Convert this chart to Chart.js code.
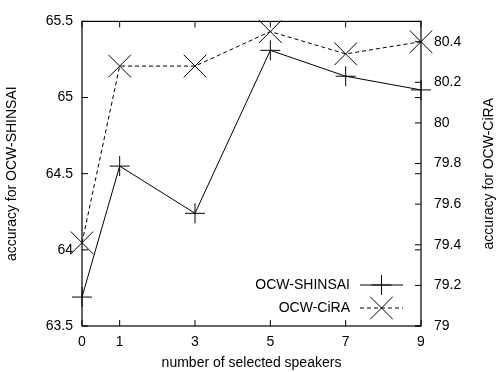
<!DOCTYPE html>
<html>
<head>
<meta charset="utf-8">
<script src="https://cdn.jsdelivr.net/npm/chart.js@4/dist/chart.umd.min.js"></script>
<style>
  html, body { margin: 0; background: #fff; }
  #wrap { width: 497px; height: 372px; }
</style>
</head>
<body>
<div id="wrap"><canvas id="c"></canvas></div>
<script>
// values
const speakers = [0, 1, 3, 5, 7, 9];
const shinsai = [63.69, 64.55, 64.24, 65.31, 65.14, 65.05];
const cira = [79.41, 80.28, 80.28, 80.45, 80.34, 80.40];
const xTicks = [0, 1, 3, 5, 7, 9];
const yTicks = [63.5, 64, 64.5, 65, 65.5];
const y2Ticks = [79, 79.2, 79.4, 79.6, 79.8, 80, 80.2, 80.4];

Chart.defaults.font.family = "'Liberation Sans', Arial, sans-serif";
Chart.defaults.font.size = 14;
Chart.defaults.color = '#000';

function fmt(v) { return String(+v.toFixed(1)); }

// gnuplot-like frame: border, inward ticks, right-hand title and the legend box
const frame = {
    id: 'frame',
    afterDraw(chart) {
        const ctx = chart.ctx;
        const a = chart.chartArea;
        const s = chart.scales;
        const t = 6;
        ctx.save();
        ctx.strokeStyle = '#000';
        ctx.lineWidth = 1.2;
        ctx.strokeRect(a.left, a.top, a.right - a.left, a.bottom - a.top);
        ctx.lineWidth = 1;
        ctx.beginPath();
        xTicks.forEach(v => {
            const x = s.x.getPixelForValue(v);
            ctx.moveTo(x, a.bottom); ctx.lineTo(x, a.bottom - t);
            ctx.moveTo(x, a.top); ctx.lineTo(x, a.top + t);
        });
        yTicks.forEach(v => {
            const y = s.y.getPixelForValue(v);
            ctx.moveTo(a.left, y); ctx.lineTo(a.left + t, y);
            ctx.moveTo(a.right, y); ctx.lineTo(a.right - t, y);
        });
        y2Ticks.forEach(v => {
            const y = s.y2.getPixelForValue(v);
            ctx.moveTo(a.right, y); ctx.lineTo(a.right - t, y);
        });
        ctx.stroke();

        // right axis title, reading bottom to top
        ctx.font = "14px 'Liberation Sans', Arial, sans-serif";
        ctx.fillStyle = '#000';
        ctx.textAlign = 'center';
        ctx.textBaseline = 'middle';
        ctx.save();
        ctx.translate(489, (a.top + a.bottom) / 2);
        ctx.rotate(-Math.PI / 2);
        ctx.fillText('accuracy for OCW-CiRA', 0, 0);
        ctx.restore();

        // legend
        ctx.textAlign = 'right';
        chart.data.datasets.forEach((ds, i) => {
            const y = 285 + i * 23;
            ctx.fillText(ds.label, 350, y);
            ctx.beginPath();
            ctx.setLineDash(ds.borderDash || []);
            ctx.moveTo(360, y); ctx.lineTo(403, y);
            ctx.stroke();
            ctx.setLineDash([]);
            Chart.helpers.drawPoint(ctx, {
                pointStyle: ds.pointStyle, radius: ds.pointRadius,
                rotation: 0, borderWidth: 1
            }, 381.5, y);
        });
        ctx.restore();
    }
};

new Chart(document.getElementById('c'), {
    type: 'line',
    data: {
        datasets: [{
            label: 'OCW-SHINSAI',
            data: speakers.map((x, i) => ({ x: x, y: shinsai[i] })),
            yAxisID: 'y',
            borderColor: '#000',
            borderWidth: 1,
            pointStyle: 'cross',
            pointRadius: 10,
            pointBorderColor: '#000',
            pointBorderWidth: 1,
            fill: false,
            clip: false
        }, {
            label: 'OCW-CiRA',
            data: speakers.map((x, i) => ({ x: x, y: cira[i] })),
            yAxisID: 'y2',
            borderColor: '#000',
            borderWidth: 1,
            borderDash: [4, 3],
            pointStyle: 'crossRot',
            pointRadius: 16,
            pointBorderColor: '#000',
            pointBorderWidth: 1,
            fill: false,
            clip: false
        }]
    },
    options: {
        responsive: true,
        maintainAspectRatio: false,
        animation: false,
        layout: { padding: { top: 15 } },
        plugins: { legend: { display: false }, tooltip: { enabled: false } },
        scales: {
            x: {
                type: 'linear',
                min: 0, max: 9,
                afterBuildTicks: sc => { sc.ticks = xTicks.map(v => ({ value: v })); },
                afterFit: sc => { sc.height = 46; },
                ticks: { padding: 8, maxRotation: 0, callback: v => fmt(v) },
                grid: { display: false, drawTicks: false },
                border: { display: false },
                title: { display: true, text: 'number of selected speakers', padding: { top: 0, bottom: 0 } }
            },
            y: {
                position: 'left',
                min: 63.5, max: 65.5,
                afterBuildTicks: sc => { sc.ticks = yTicks.map(v => ({ value: v })); },
                afterFit: sc => { sc.width = 82; },
                ticks: { padding: 9, callback: v => fmt(v) },
                grid: { display: false, drawTicks: false },
                border: { display: false },
                title: { display: true, text: 'accuracy for OCW-SHINSAI', padding: { top: 4, bottom: 0 } }
            },
            y2: {
                position: 'right',
                min: 79, max: 80.5,
                afterBuildTicks: sc => { sc.ticks = y2Ticks.map(v => ({ value: v })); },
                afterFit: sc => { sc.width = 76; },
                ticks: { padding: 13, callback: v => fmt(v) },
                grid: { display: false, drawTicks: false },
                border: { display: false }
            }
        }
    },
    plugins: [frame]
});
</script>
</body>
</html>
